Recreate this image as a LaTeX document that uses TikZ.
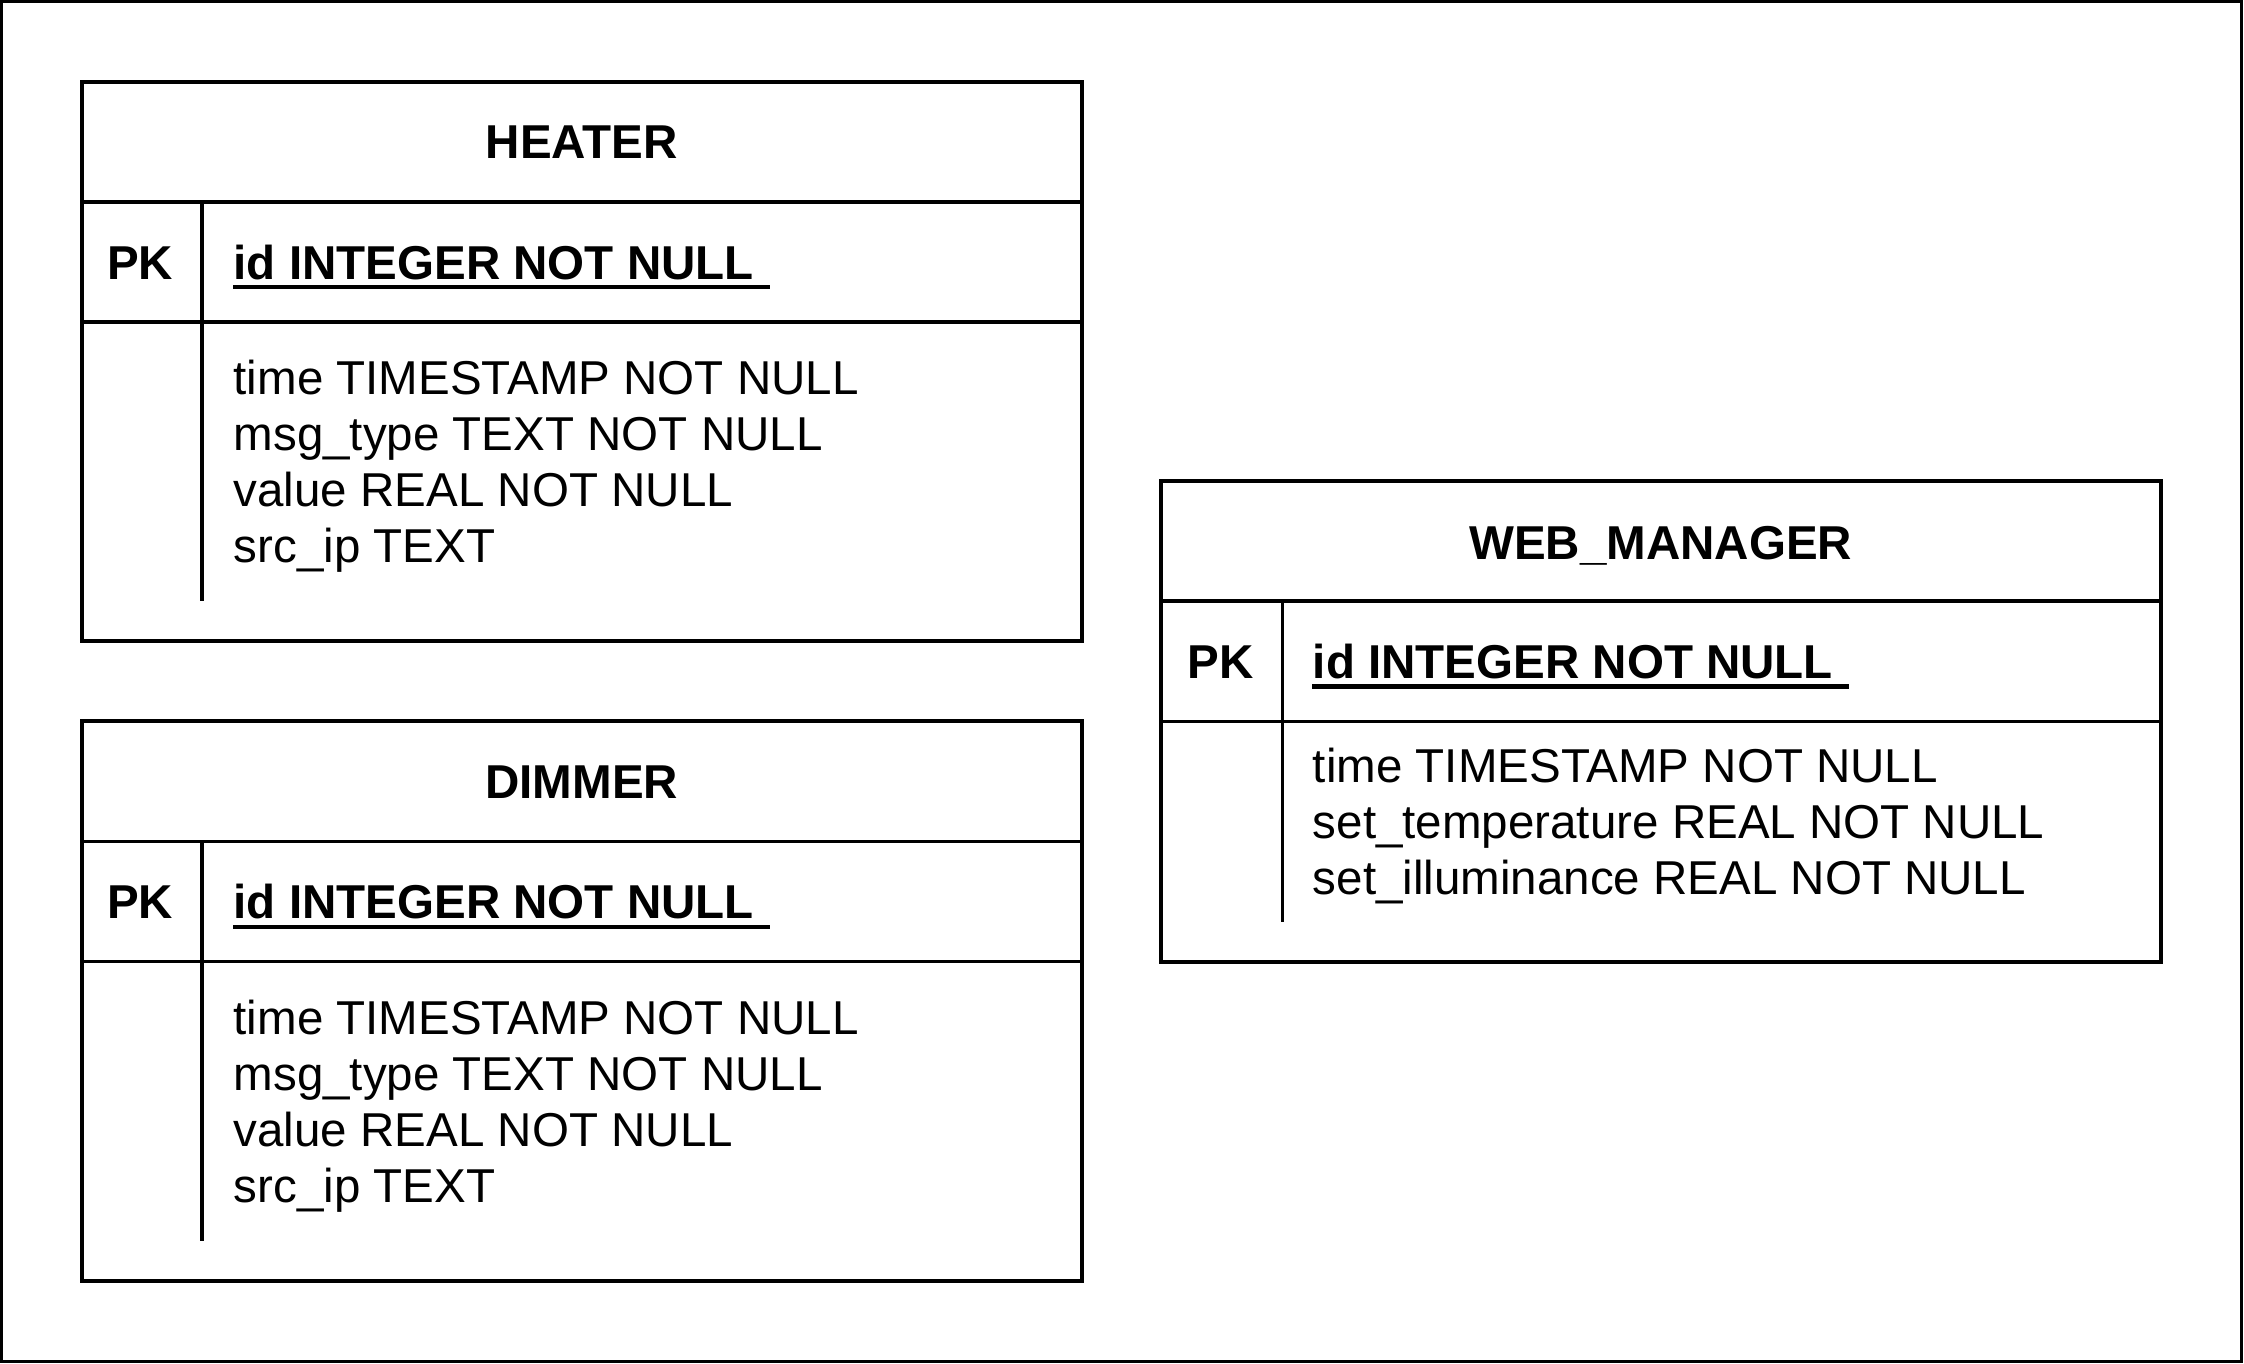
\documentclass[tikz,border=0pt]{standalone}
\usepackage{fontspec}
\setmainfont{Liberation Sans}
\newcommand{\tabfont}{\fontsize{18.9}{22}\selectfont}

\tikzset{
  tablebox/.style={line width=1.6pt},
  rowline/.style={line width=1.4pt},
  uline/.style={line width=1.8pt},
  title/.style={anchor=base,inner sep=0pt,font=\tabfont\bfseries},
  keytag/.style={anchor=base,inner sep=0pt,font=\tabfont\bfseries},
  field/.style={anchor=base west,inner sep=0pt,font=\tabfont},
  keyfield/.style={field,font=\tabfont\bfseries},
}

\begin{document}
\begin{tikzpicture}[x=0.02cm,y=-0.02cm]

\useasboundingbox (0,0) rectangle (1568,953);
\draw[line width=1.2pt] (1,1) rectangle (1566,951);

% HEATER
\draw[tablebox] (57,57) rectangle (756,448);
\draw[rowline] (57,141) -- (756,141);
\draw[rowline] (57,225) -- (756,225);
\draw[rowline] (141,141) -- (141,420);
\node[title] (heater) at (406.5,111) {HEATER};
\node[keytag] (heaterpk) at (98,195) {PK};
\node[keyfield] (heaterid) at (163,195) {id INTEGER NOT NULL};
\draw[uline] ([yshift=-3.2pt]heaterid.base west) -- ++(375,0);
\foreach \t [count=\i] in {time TIMESTAMP NOT NULL,msg\_type TEXT NOT NULL,value REAL NOT NULL,src\_ip TEXT}
  \node[field] (heater\i) at (163,237+39*\i) {\t};

% DIMMER
\draw[tablebox] (57,504) rectangle (756,895);
\draw[rowline] (57,588) -- (756,588);
\draw[rowline] (57,672) -- (756,672);
\draw[rowline] (141,588) -- (141,867);
\node[title] (dimmer) at (406.5,558) {DIMMER};
\node[keytag] (dimmerpk) at (98,642) {PK};
\node[keyfield] (dimmerid) at (163,642) {id INTEGER NOT NULL};
\draw[uline] ([yshift=-3.2pt]dimmerid.base west) -- ++(375,0);
\foreach \t [count=\i] in {time TIMESTAMP NOT NULL,msg\_type TEXT NOT NULL,value REAL NOT NULL,src\_ip TEXT}
  \node[field] (dimmer\i) at (163,684+39*\i) {\t};

% WEB_MANAGER
\draw[tablebox] (811,336) rectangle (1510,672);
\draw[rowline] (811,420) -- (1510,420);
\draw[rowline] (811,504) -- (1510,504);
\draw[rowline] (896,420) -- (896,644);
\node[title] (webmgr) at (1160.5,391) {WEB\_MANAGER};
\node[keytag] (webmgrpk) at (853,474) {PK};
\node[keyfield] (webmgrid) at (917,474) {id INTEGER NOT NULL};
\draw[uline] ([yshift=-3.2pt]webmgrid.base west) -- ++(375,0);
\foreach \t [count=\i] in {time TIMESTAMP NOT NULL,set\_temperature REAL NOT NULL,set\_illuminance REAL NOT NULL}
  \node[field] (webmgr\i) at (917,508+39*\i) {\t};

\end{tikzpicture}
\end{document}
